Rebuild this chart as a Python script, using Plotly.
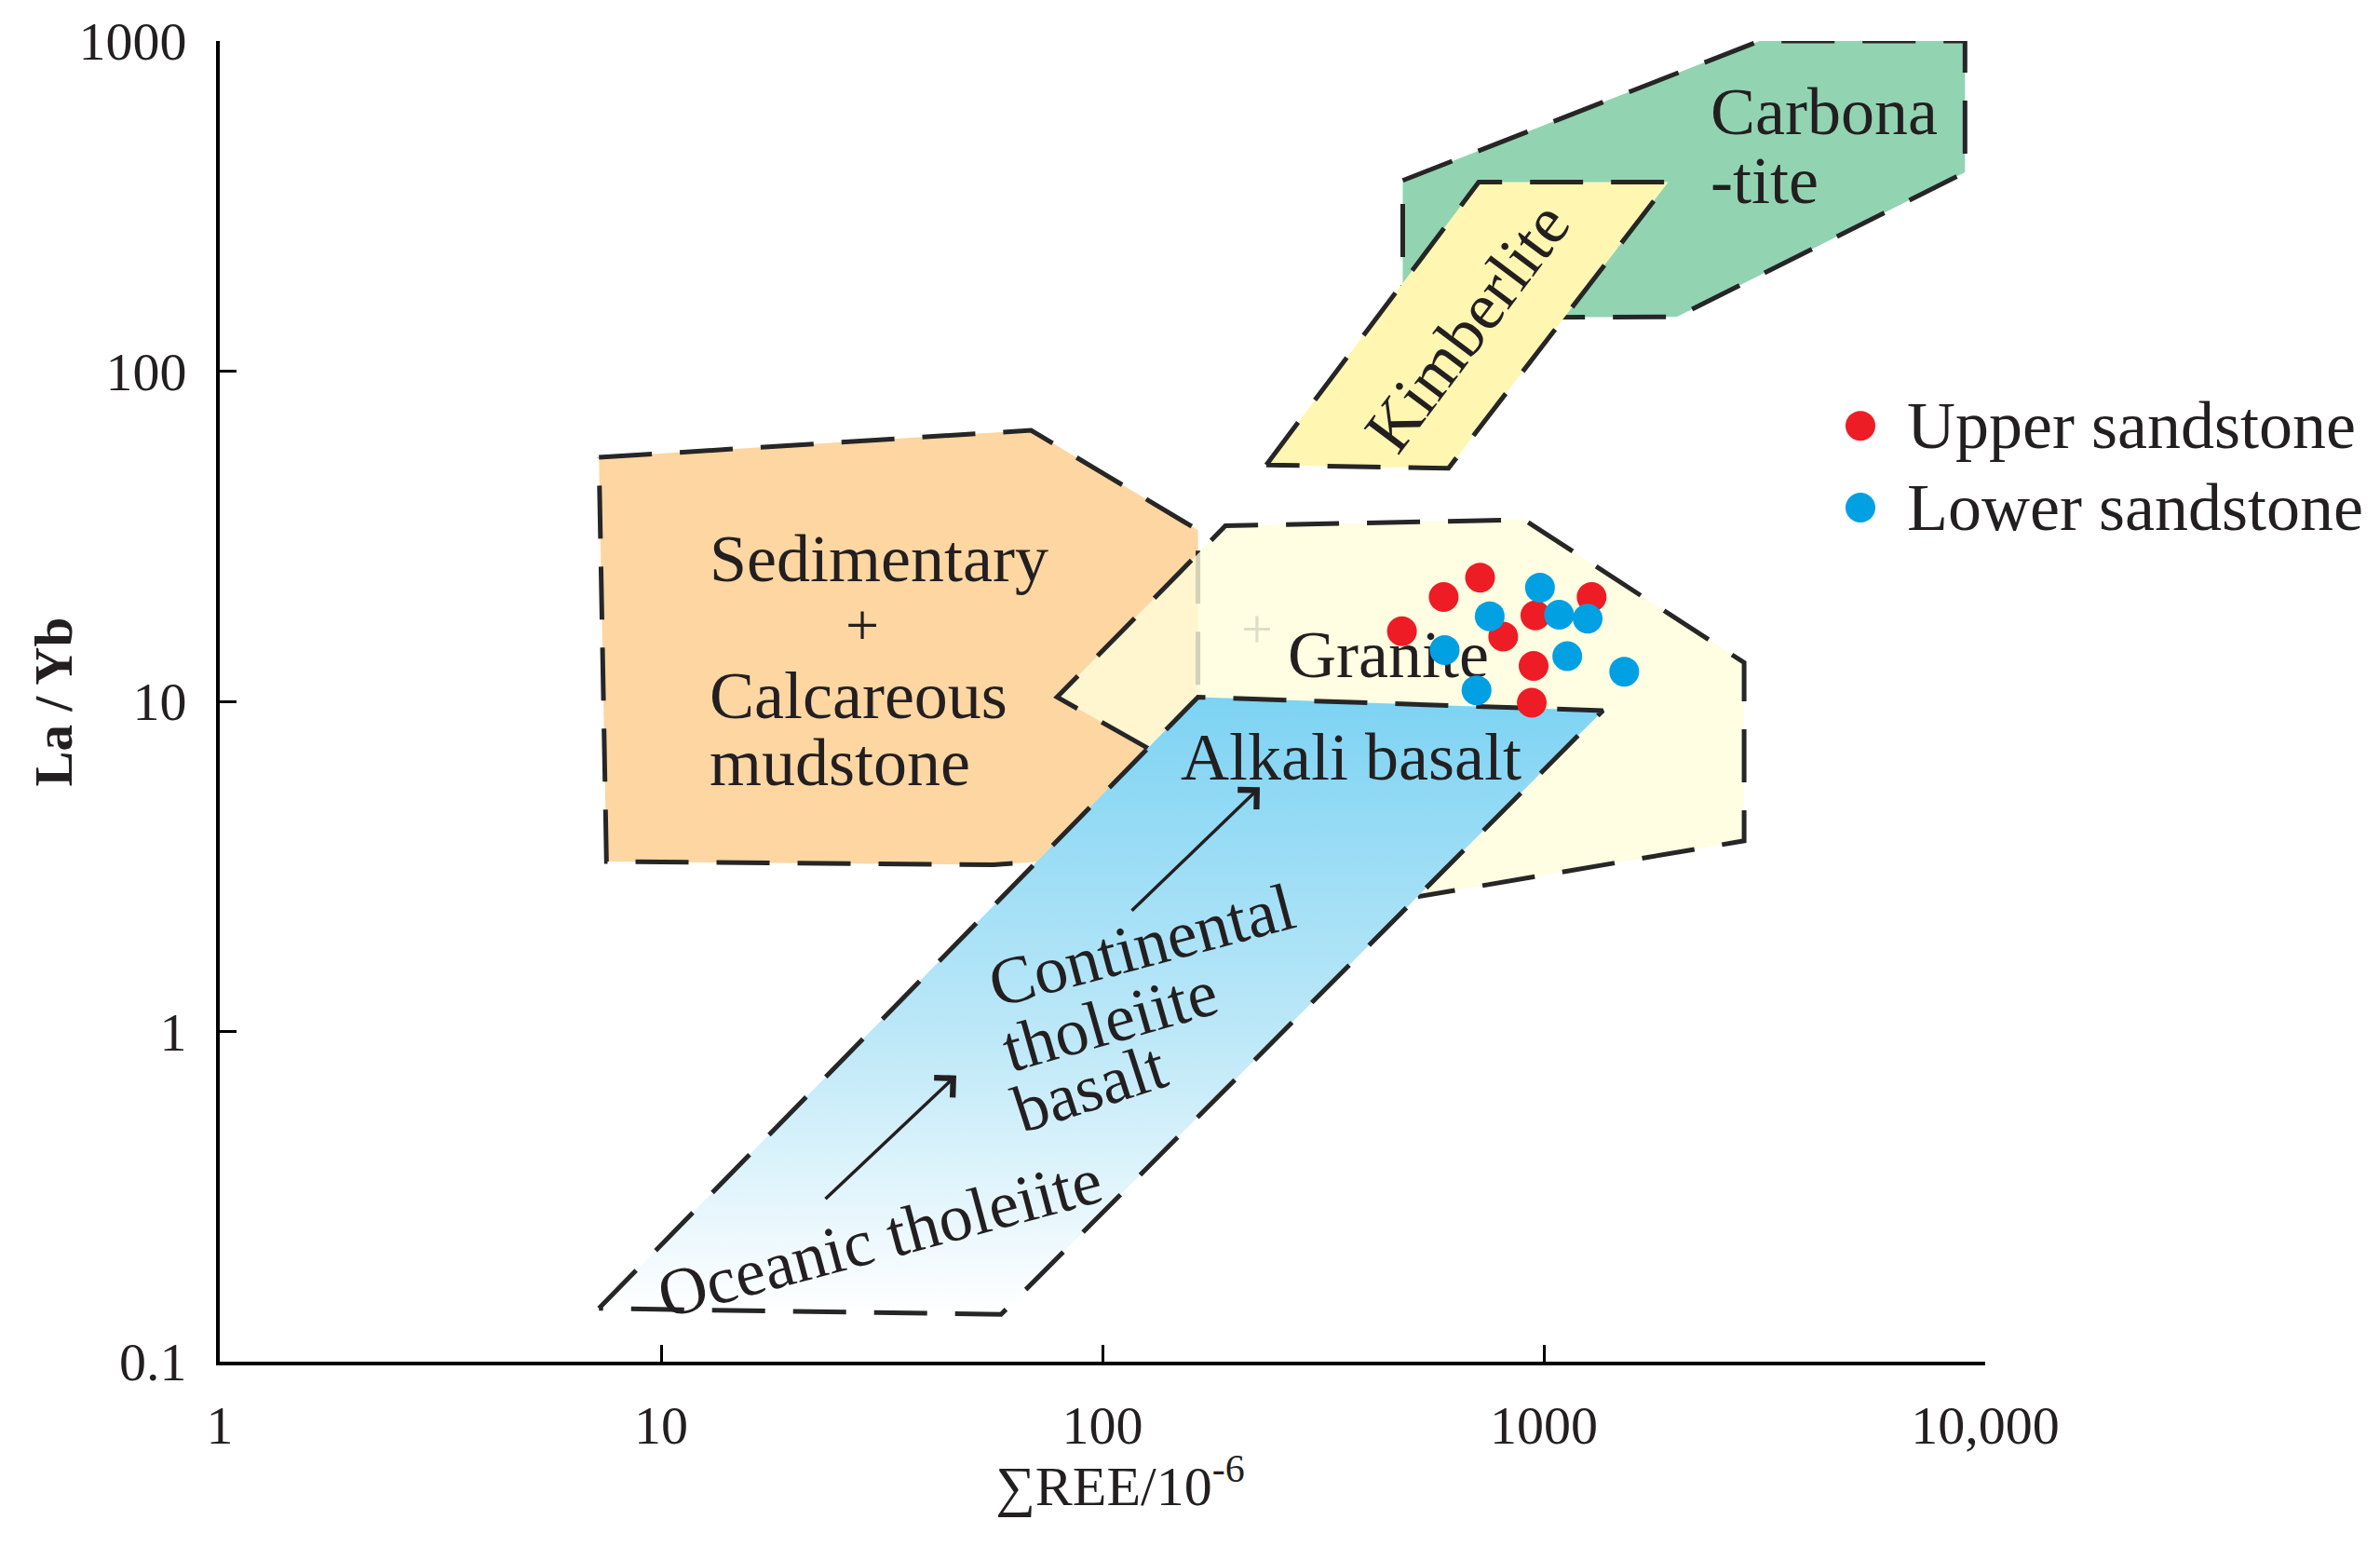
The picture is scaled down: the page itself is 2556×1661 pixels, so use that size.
import plotly.graph_objects as go

SERIF = "Liberation Serif"
TEXT = "#231f20"
EDGE = "#262626"
DASH = "57px,30px"
EDGE_W = 5

# ---------------- data ----------------
x_ticks = [1, 10, 100, 1000, 10000]
x_ticktext = ["1", "10", "100", "1000", "10,000"]
y_ticks = [0.1, 1, 10, 100, 1000]
y_ticktext = ["0.1", "1", "10", "100", "1000"]

# field polygons (sum REE, La/Yb)
carbonatite_ree = [479, 3080, 9000, 9000, 2000, 479]
carbonatite_layb = [378, 1000, 1000, 400, 146, 145]

kimberlite_ree = [235, 712, 1914, 608]
kimberlite_layb = [52, 374, 374, 50.8]

sediment_ree = [7.23, 68.9, 164.6, 164.6, 56.6, 7.52]
sediment_layb = [54.8, 66.2, 33.0, 3.52, 3.20, 3.27]

granite_ree = [126.8, 78.9, 189.9, 902, 2843, 2843, 518]
granite_layb = [7.21, 10.3, 34.0, 35.5, 13.1, 3.78, 2.56]

basalt_ree = [7.23, 164.6, 1361, 58.9]
basalt_layb = [0.145, 10.3, 9.37, 0.139]

# samples
upper_ree = [477, 593, 717, 957, 809, 1283, 948, 939]
upper_layb = [16.3, 20.7, 23.7, 18.2, 15.7, 20.7, 12.8, 9.9]
lower_ree = [980, 754, 1083, 1257, 596, 1130, 1521, 704]
lower_layb = [22.1, 18.1, 18.3, 17.8, 14.3, 13.7, 12.3, 10.8]

RED = "#ee1c25"
BLUE = "#00a0e3"

# ---------------- layout helpers ----------------
W, H = 2556, 1661
X0, X1, Y0, Y1 = 236, 2132, 41, 1462   # plot area in page pixels


def px(x):
    return (x - X0) / (X1 - X0)


def py(y):
    return (Y1 - y) / (Y1 - Y0)


def to_data(x, y):
    return 10 ** (4 * (x - X0) / (X1 - X0)), 10 ** (3 - 4 * (y - Y0) / (Y1 - Y0))


def closed(v):
    return list(v) + [v[0]]


edge = dict(color=EDGE, width=EDGE_W, dash=DASH)

fig = go.Figure()

# sedimentary + calcareous mudstone
fig.add_trace(go.Scatter(x=closed(sediment_ree), y=closed(sediment_layb), mode="lines",
                         fill="toself", fillcolor="#fdd6a2", line=edge,
                         hoverinfo="skip", showlegend=False))
# granite (semi-transparent over the sediment field)
fig.add_trace(go.Scatter(x=granite_ree, y=granite_layb, mode="lines",
                         fill="toself", fillcolor="rgba(255,252,219,0.8)",
                         line=dict(color="rgba(0,0,0,0)", width=0),
                         hoverinfo="skip", showlegend=False))
fig.add_trace(go.Scatter(x=granite_ree, y=granite_layb, mode="lines", line=edge,
                         hoverinfo="skip", showlegend=False))
# basalt field with vertical gradient
fig.add_trace(go.Scatter(x=closed(basalt_ree), y=closed(basalt_layb), mode="lines",
                         fill="toself",
                         fillgradient=dict(type="vertical",
                                           colorscale=[[0, "#ffffff"], [0.45, "#bde8f8"], [1, "#7dd3f3"]]),
                         line=edge, hoverinfo="skip", showlegend=False))
# carbonatite
fig.add_trace(go.Scatter(x=closed(carbonatite_ree), y=closed(carbonatite_layb), mode="lines",
                         fill="toself", fillcolor="#92d4b2", line=edge,
                         hoverinfo="skip", showlegend=False))
# kimberlite
fig.add_trace(go.Scatter(x=closed(kimberlite_ree), y=closed(kimberlite_layb), mode="lines",
                         fill="toself", fillcolor="#fff6b2", line=edge,
                         hoverinfo="skip", showlegend=False))

# Granite label under the sample points
gx, gy = to_data(1491, 707)
fig.add_trace(go.Scatter(x=[gx], y=[gy], mode="text", text=["Granite"],
                         textposition="middle center",
                         textfont=dict(family=SERIF, size=72, color=TEXT),
                         hoverinfo="skip", showlegend=False))

fig.add_trace(go.Scatter(x=upper_ree, y=upper_layb, mode="markers", name="Upper sandstone",
                         marker=dict(size=32, color=RED, line=dict(width=0)), showlegend=False))
fig.add_trace(go.Scatter(x=lower_ree, y=lower_layb, mode="markers", name="Lower sandstone",
                         marker=dict(size=32, color=BLUE, line=dict(width=0)), showlegend=False))


def label(text, x, y, size=72, angle=0, xanchor="center", color=TEXT, bold=False):
    return dict(text=text, x=px(x), y=py(y), xref="paper", yref="paper", showarrow=False,
                textangle=angle, xanchor=xanchor, yanchor="middle",
                font=dict(family=SERIF, size=size, color=color,
                          weight="bold" if bold else "normal"))


annotations = [
    label("Carbona", 1835, 117, xanchor="left"),
    label("-tite", 1835, 191, xanchor="left"),
    label("Kimberlite", 1576, 349, angle=-53),
    label("Sedimentary", 760, 598, xanchor="left"),
    label("+", 926, 670, size=64),
    label("Calcareous", 760, 745, xanchor="left"),
    label("mudstone", 760, 818, xanchor="left"),
    label("+", 1350, 673, size=60, color="#deddc8"),
    label("Alkali basalt", 1451, 812),
    label("Continental", 1226, 1014, angle=-15),
    label("tholeiite", 1192, 1095, angle=-16),
    label("basalt", 1170, 1167, angle=-18),
    label("Oceanic tholeiite", 945, 1329, angle=-15),
    # legend text
    label("Upper sandstone", 2046, 455, xanchor="left"),
    label("Lower sandstone", 2046, 543, xanchor="left"),
    # axis titles
    label("∑REE/10<sup>-6</sup>", 1203, 1592, size=60),
    label("La / Yb", 57, 752, size=57, angle=-90, bold=True),
]

# trend arrows
for (tx, ty, hx, hy) in [(885, 1288, 1027, 1154), (1214, 978, 1353, 844)]:
    annotations.append(dict(x=px(hx), y=py(hy), xref="paper", yref="paper", text="",
                            showarrow=True, ax=tx - hx, ay=ty - hy, axref="pixel", ayref="pixel",
                            arrowhead=4, arrowsize=1.6, arrowwidth=3.5, arrowcolor=TEXT,
                            standoff=0, startstandoff=0))

shapes = []
for (cy, col) in [(455, RED), (543, BLUE)]:
    shapes.append(dict(type="circle", xref="paper", yref="paper",
                       xsizemode="pixel", ysizemode="pixel",
                       xanchor=px(1998), yanchor=py(cy),
                       x0=-16, x1=16, y0=-16, y1=16,
                       fillcolor=col, line=dict(width=0)))

axis_common = dict(type="log", showline=True, linecolor="black", linewidth=4,
                   ticks="inside", ticklen=18, tickwidth=3, tickcolor="black",
                   showgrid=False, zeroline=False, mirror=False,
                   tickfont=dict(family=SERIF, size=58, color=TEXT))

fig.update_layout(
    width=W, height=H, autosize=False,
    margin=dict(l=X0, r=W - X1, t=Y0, b=H - Y1, pad=0),
    plot_bgcolor="white", paper_bgcolor="white",
    showlegend=False,
    xaxis=dict(range=[0, 4], tickvals=x_ticks, ticktext=x_ticktext,
               ticklabelstandoff=14, **axis_common),
    yaxis=dict(range=[-1, 3], tickvals=y_ticks, ticktext=y_ticktext,
               ticklabelstandoff=20, **axis_common),
    annotations=annotations,
    shapes=shapes,
)

fig.write_html("out.html", config={"displayModeBar": False},
               post_script="document.body.style.margin='0';document.body.style.overflow='hidden';")
